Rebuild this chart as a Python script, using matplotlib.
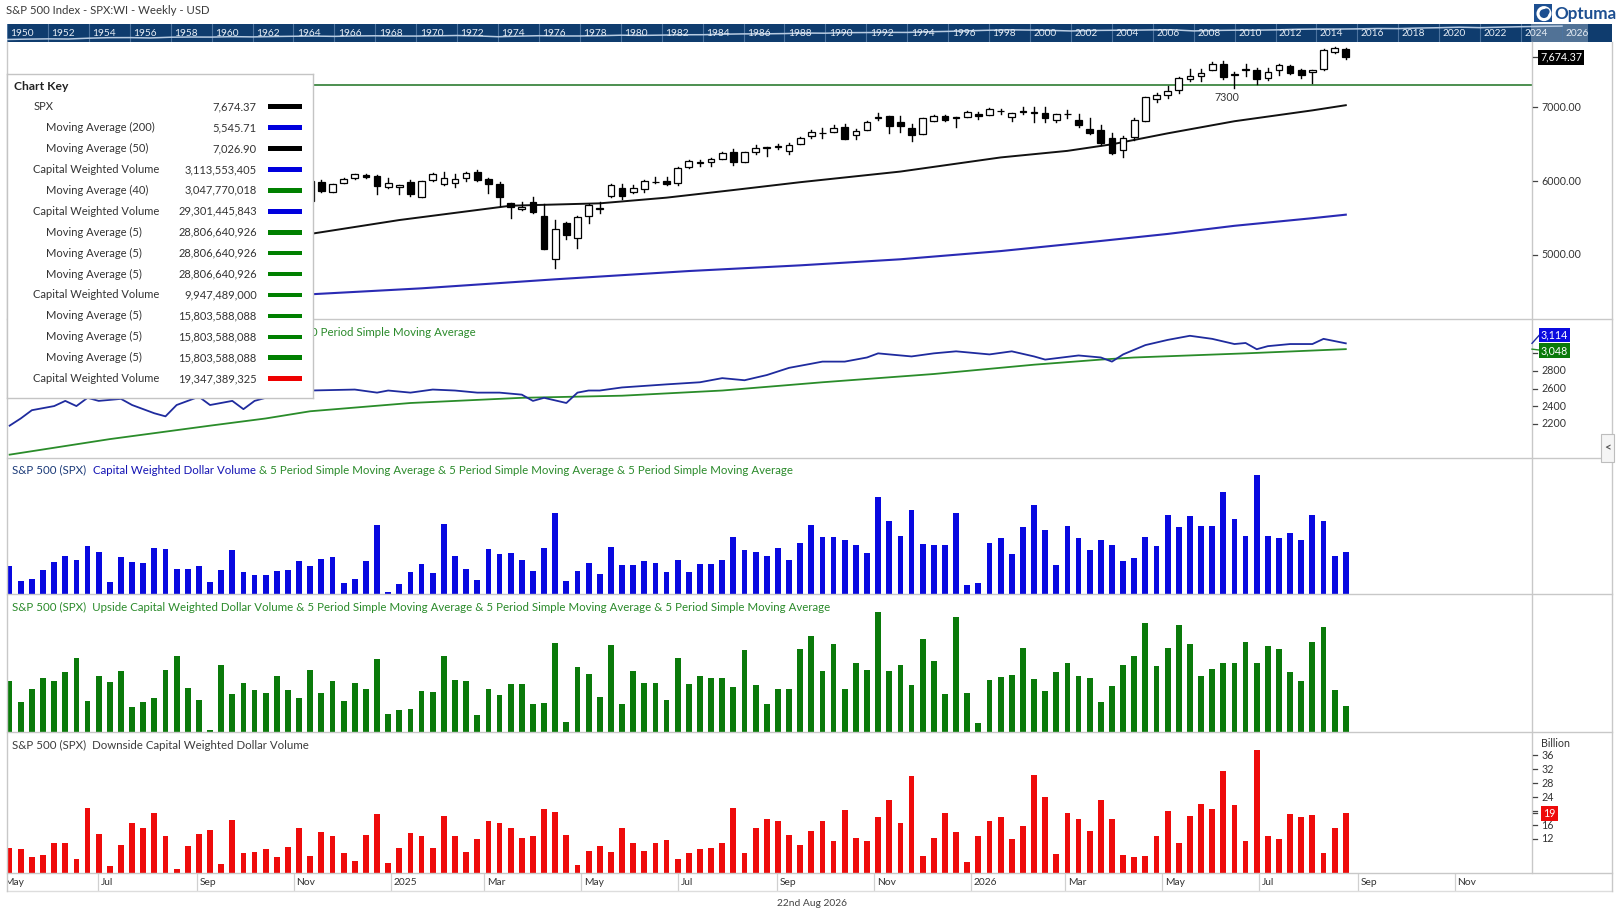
import datetime as dt
import matplotlib
matplotlib.use('Agg')
import matplotlib.pyplot as plt
from matplotlib.patches import Rectangle, Circle
from matplotlib.lines import Line2D
import numpy as np

# ---------------------------------------------------------------- data
first_week = dt.date(2024, 5, 3)          # week ending date of bar 1

opens = [5085, 5142, 5233, 5311, 5316, 5297, 5341, 5440, 5473, 5471,
         5572, 5638, 5545, 5476, 5152, 5353, 5557, 5635, 5624, 5442,
         5615, 5711, 5737, 5737, 5833, 5863, 5809, 5724, 5992, 5857,
         5979, 6037, 6082, 6069, 5924, 5915, 5983, 5780, 6010, 5956,
         5970, 6037, 6118, 6024, 5960, 5699, 5627, 5712, 5528, 4941,
         5428, 5225, 5523, 5628, 5794, 5902, 5848, 5888, 5985, 6001,
         5970, 6186, 6245, 6254, 6299, 6389, 6263, 6389, 6443, 6463,
         6407, 6502, 6610, 6648, 6668, 6735, 6624, 6690, 6855, 6882,
         6793, 6722, 6641, 6815, 6882, 6864, 6868, 6913, 6895, 6946,
         6868, 6953, 6928, 6926, 6824, 6902, 6828, 6708, 6686, 6588,
         6419, 6601, 6811, 7109, 7162, 7229, 7380, 7416, 7509, 7589,
         7440, 7507, 7500, 7389, 7500, 7558, 7509, 7475, 7510, 7748,
         7793]
highs = [5139, 5239, 5325, 5342, 5325, 5375, 5447, 5506, 5524, 5570,
         5655, 5670, 5566, 5566, 5360, 5563, 5643, 5651, 5626, 5636,
         5733, 5767, 5762, 5823, 5878, 5878, 5868, 6012, 6015, 5965,
         6042, 6095, 6096, 6082, 6037, 5945, 6015, 6006, 6114, 6118,
         6091, 6123, 6150, 6042, 5988, 5702, 5712, 5785, 5690, 5473,
         5451, 5528, 5690, 5712, 5955, 5956, 5942, 6015, 6055, 6060,
         6195, 6280, 6285, 6317, 6388, 6439, 6392, 6484, 6468, 6506,
         6520, 6596, 6690, 6717, 6753, 6775, 6699, 6819, 6922, 6884,
         6882, 6771, 6858, 6895, 6895, 6866, 6944, 6931, 6993, 6980,
         6924, 6997, 6997, 7002, 6906, 6957, 6904, 6859, 6762, 6650,
         6615, 6855, 7144, 7189, 7287, 7407, 7522, 7522, 7607, 7620,
         7482, 7580, 7536, 7531, 7578, 7576, 7522, 7503, 7781, 7815,
         7802]
lows = [5011, 5114, 5211, 5257, 5191, 5234, 5330, 5432, 5434, 5448,
        5565, 5497, 5390, 5305, 5120, 5341, 5550, 5560, 5402, 5406,
        5604, 5703, 5675, 5696, 5800, 5782, 5696, 5697, 5857, 5850,
        5970, 6033, 6042, 5825, 5911, 5825, 5803, 5778, 6006, 5953,
        5924, 6006, 6006, 5843, 5667, 5505, 5609, 5573, 5075, 4828,
        5221, 5099, 5437, 5573, 5790, 5758, 5834, 5852, 5970, 5947,
        5951, 6183, 6209, 6209, 6296, 6222, 6260, 6366, 6344, 6430,
        6371, 6500, 6579, 6579, 6665, 6573, 6575, 6688, 6824, 6650,
        6664, 6544, 6638, 6813, 6810, 6730, 6866, 6842, 6893, 6913,
        6810, 6904, 6802, 6806, 6797, 6851, 6735, 6641, 6490, 6365,
        6330, 6552, 6808, 7064, 7122, 7189, 7349, 7349, 7507, 7385,
        7265, 7420, 7309, 7362, 7442, 7454, 7398, 7331, 7508, 7739,
        7649]
closes = [5128, 5223, 5303, 5305, 5278, 5347, 5432, 5465, 5460, 5567,
          5615, 5505, 5459, 5347, 5344, 5554, 5635, 5648, 5408, 5626,
          5703, 5738, 5751, 5815, 5865, 5808, 5729, 5996, 5870, 5960,
          6024, 6091, 6055, 5938, 5970, 5942, 5830, 5997, 6091, 6042,
          6024, 6105, 6019, 5956, 5780, 5645, 5654, 5586, 5077, 5347,
          5275, 5510, 5676, 5634, 5952, 5803, 5902, 5997, 5990, 5965,
          6177, 6276, 6250, 6299, 6385, 6254, 6389, 6443, 6466, 6468,
          6484, 6578, 6668, 6652, 6722, 6575, 6673, 6806, 6860, 6748,
          6744, 6624, 6855, 6882, 6828, 6855, 6935, 6877, 6980, 6950,
          6922, 6931, 6933, 6851, 6904, 6906, 6757, 6650, 6512, 6379,
          6584, 6824, 7135, 7171, 7224, 7398, 7420, 7469, 7580, 7402,
          7445, 7511, 7376, 7478, 7576, 7456, 7433, 7501, 7779, 7802,
          7674.37]

ma200_idx = [28, 38, 50, 62, 72, 81, 90, 99, 105, 111, 118, 121]
ma200_val = [4468, 4549, 4671, 4783, 4860, 4942, 5053, 5190, 5285, 5395, 5498, 5545.71]
ma50_idx = [28, 36, 46, 54, 60, 66, 72, 81, 90, 96, 100, 105, 111, 118, 121]
ma50_val = [5285, 5473, 5667, 5699, 5776, 5879, 5985, 6129, 6320, 6409, 6498, 6646, 6810, 6957, 7026.90]
support_level = 7300

cwv_idx = [1, 2, 3, 5, 6, 7, 8, 9, 11, 12, 14, 15, 16, 18, 19, 21, 22, 23, 24, 25,
           26, 27, 28, 32, 34, 35, 37, 39, 41, 43, 45, 47, 48, 49, 51, 52, 53, 54, 56, 60,
           63, 65, 67, 69, 71, 73, 74, 76, 78, 79, 80, 82, 84, 86, 89, 91, 93, 94, 97, 99,
           100, 101, 103, 105, 107, 109, 111, 112, 113, 114, 116, 118, 119, 121]
cwv_val = [2177, 2259, 2353, 2400, 2459, 2400, 2494, 2459, 2482, 2412, 2318, 2283, 2412, 2506, 2412, 2459, 2365, 2459, 2494, 2540,
           2560, 2570, 2577, 2588, 2553, 2577, 2553, 2588, 2577, 2553, 2553, 2530, 2459, 2494, 2435, 2553, 2577, 2577, 2612, 2647,
           2671, 2718, 2694, 2753, 2835, 2882, 2906, 2906, 2953, 3000, 2988, 2965, 3000, 3023, 2988, 3023, 2965, 2929, 2976, 2953,
           2906, 2988, 3094, 3153, 3200, 3165, 3106, 3118, 3047, 3082, 3106, 3106, 3165, 3114]
ma40_idx = [1, 10, 19, 24, 28, 37, 47, 56, 65, 74, 84, 93, 99, 102, 112, 121]
ma40_val = [1847, 2024, 2177, 2259, 2341, 2435, 2494, 2518, 2577, 2671, 2765, 2871, 2929, 2953, 3000, 3048]

# billions
total_vol = [23.4, 17.3, 18.1, 21.7, 25.0, 27.4, 25.8, 31.5, 29.0, 16.9,
             27.0, 25.0, 24.6, 30.7, 30.3, 22.1, 22.1, 23.4, 16.9, 21.7,
             29.9, 20.9, 19.7, 19.7, 21.3, 21.7, 25.4, 23.4, 26.2, 27.0,
             16.5, 18.1, 25.4, 40.4, 12.8, 16.1, 20.9, 24.2, 20.5, 40.8,
             27.4, 22.1, 17.7, 30.3, 28.2, 28.6, 25.8, 21.3, 30.7, 45.3,
             17.3, 21.3, 24.6, 20.1, 31.1, 23.8, 23.8, 25.4, 24.6, 20.9,
             25.8, 20.9, 24.2, 24.2, 25.8, 35.1, 29.9, 29.0, 27.4, 30.7,
             25.8, 32.7, 40.4, 35.1, 35.1, 33.9, 31.9, 28.6, 51.8, 42.0,
             35.9, 46.5, 32.3, 31.9, 31.9, 45.3, 15.7, 16.5, 32.7, 34.7,
             28.2, 39.2, 48.5, 38.0, 23.8, 39.6, 34.7, 29.9, 33.9, 31.9,
             25.4, 26.6, 35.5, 31.5, 44.5, 39.2, 43.7, 40.0, 39.6, 53.8,
             42.8, 35.9, 60.7, 35.9, 34.7, 36.8, 33.9, 44.5, 42.0, 27.5,
             29.3]
up_vol = [17.7, 11.2, 15.2, 18.6, 17.7, 20.5, 24.8, 11.5, 19.2, 17.4,
          20.8, 9.6, 11.2, 12.4, 21.1, 25.4, 15.5, 11.8, 2.5, 22.6,
          13.7, 17.1, 14.9, 14.0, 19.2, 14.9, 12.4, 21.1, 14.0, 17.7,
          11.5, 17.1, 15.2, 24.5, 7.5, 8.7, 9.0, 14.6, 14.3, 25.4,
          18.0, 17.7, 7.2, 15.2, 13.3, 16.7, 16.7, 10.6, 10.9, 29.4,
          5.0, 22.0, 19.8, 12.7, 28.8, 10.6, 20.8, 17.1, 17.1, 11.8,
          24.8, 16.7, 19.2, 18.6, 18.6, 15.8, 27.3, 16.4, 10.6, 15.2,
          15.2, 27.6, 31.6, 20.8, 29.1, 15.2, 23.5, 21.1, 39.0, 20.8,
          22.6, 16.4, 30.7, 23.9, 13.7, 37.5, 14.0, 4.7, 18.0, 18.9,
          19.5, 27.9, 18.3, 14.6, 20.5, 23.2, 19.2, 18.6, 11.2, 16.1,
          22.6, 25.4, 35.6, 22.3, 27.9, 35.0, 29.1, 19.2, 21.4, 23.2,
          23.5, 29.7, 23.2, 28.5, 27.6, 20.5, 17.7, 29.7, 34.6, 15.1,
          9.95]
down_vol = [9.5, 9.0, 6.9, 7.4, 10.9, 10.9, 6.3, 21.0, 13.5, 4.1,
            10.3, 16.7, 15.2, 19.5, 12.9, 3.3, 10.0, 13.5, 14.7, 4.7,
            17.5, 8.1, 8.3, 9.1, 6.9, 9.7, 15.0, 7.2, 14.1, 12.7,
            8.1, 5.8, 13.2, 19.3, 5.0, 9.4, 13.8, 12.7, 9.5, 18.7,
            12.7, 8.2, 12.1, 17.2, 16.7, 15.0, 12.4, 12.9, 20.7, 19.8,
            13.2, 4.5, 8.4, 10.1, 8.3, 15.0, 10.7, 8.5, 10.7, 11.8,
            6.3, 7.9, 9.2, 9.5, 10.9, 21.0, 8.1, 15.2, 17.8, 17.2,
            13.2, 10.4, 14.4, 17.2, 11.5, 20.4, 12.4, 11.5, 18.4, 23.3,
            16.7, 30.2, 7.0, 12.4, 19.5, 14.1, 5.5, 12.7, 17.2, 18.4,
            12.1, 15.8, 30.4, 24.1, 7.7, 19.5, 17.8, 14.4, 23.3, 17.8,
            7.4, 6.9, 7.2, 12.9, 20.1, 10.7, 18.7, 22.1, 20.7, 31.5,
            21.8, 11.5, 37.5, 12.7, 12.1, 19.2, 18.4, 19.0, 8.0, 15.0,
            19.35]

tl_years = list(range(1950, 2027))
tl_values = [20.4, 23.8, 26.6, 24.8, 36.0, 45.5, 46.7, 40.0, 55.2, 59.9,
             58.1, 71.6, 63.1, 75.0, 84.8, 92.4, 80.3, 96.5, 103.9, 92.1,
             92.2, 102.1, 118.1, 97.6, 68.6, 90.2, 107.5, 95.1, 96.1, 107.9,
             135.8, 122.6, 140.6, 164.9, 167.2, 211.3, 242.2, 247.1, 277.7, 353.4,
             330.2, 417.1, 435.7, 466.5, 459.3, 615.9, 740.7, 970.4, 1229, 1469,
             1320, 1148, 880, 1112, 1212, 1248, 1418, 1468, 903, 1115,
             1258, 1258, 1426, 1848, 2059, 2044, 2239, 2674, 2507, 3231,
             3756, 4766, 3840, 4770, 5882, 6850, 7674]

key_names = ['SPX', 'Moving Average (200)', 'Moving Average (50)', 'Capital Weighted Volume',
             'Moving Average (40)', 'Capital Weighted Volume', 'Moving Average (5)', 'Moving Average (5)',
             'Moving Average (5)', 'Capital Weighted Volume', 'Moving Average (5)', 'Moving Average (5)',
             'Moving Average (5)', 'Capital Weighted Volume']
key_values = ['7,674.37', '5,545.71', '7,026.90', '3,113,553,405', '3,047,770,018', '29,301,445,843',
              '28,806,640,926', '28,806,640,926', '28,806,640,926', '9,947,489,000',
              '15,803,588,088', '15,803,588,088', '15,803,588,088', '19,347,389,325']
key_indent = [0, 1, 1, 0, 1, 0, 1, 1, 1, 0, 1, 1, 1, 0]
key_colors = ['#000000', '#0000dd', '#000000', '#0000dd', '#008000', '#0000dd', '#008000', '#008000',
              '#008000', '#008000', '#008000', '#008000', '#008000', '#ee0000']

month_ticks = [dt.date(2024, 5, 1), dt.date(2024, 7, 1), dt.date(2024, 9, 1), dt.date(2024, 11, 1),
               dt.date(2025, 1, 1), dt.date(2025, 3, 1), dt.date(2025, 5, 1), dt.date(2025, 7, 1),
               dt.date(2025, 9, 1), dt.date(2025, 11, 1), dt.date(2026, 1, 1), dt.date(2026, 3, 1),
               dt.date(2026, 5, 1), dt.date(2026, 7, 1), dt.date(2026, 9, 1), dt.date(2026, 11, 1)]
month_labels = ['May', 'Jul', 'Sep', 'Nov', '2025', 'Mar', 'May', 'Jul', 'Sep', 'Nov',
                '2026', 'Mar', 'May', 'Jul', 'Sep', 'Nov']

# ---------------------------------------------------------------- figure
W, H = 1620, 924
plt.rcParams['font.family'] = ['Lato', 'DejaVu Sans']
fig = plt.figure(figsize=(W / 100, H / 100), dpi=100)
fig.patch.set_facecolor('white')
renderer = fig.canvas.get_renderer()

NAVY = '#1b3a78'
BLUE_T = '#1414b4'
GREEN_T = '#2a8a2a'
GREY_T = '#333333'
BORDER = '#c8c8c8'


def tw(s, fs, weight='normal'):
    t = fig.text(0, 0, s, fontsize=fs, fontweight=weight)
    w = t.get_window_extent(renderer=renderer).width
    t.remove()
    return w


def fit(s, target, weight='normal'):
    return 10.0 * target / tw(s, 10.0, weight)


def ftext(x, y, s, fs, color=GREY_T, ha='left', va='center', weight='normal', z=5, **kw):
    return fig.text(x / W, 1 - y / H, s, fontsize=fs, color=color, ha=ha, va=va,
                    fontweight=weight, zorder=z, **kw)


def mtext(x, y, parts, fs, align='left', z=5):
    full = ''.join(p for p, _ in parts)
    total = tw(full, fs)
    if align == 'right':
        x = x - total
    bar = tw('|', fs)
    pre = ''
    for s, c in parts:
        off = (tw(pre + '|', fs) - bar) if pre else 0.0
        ftext(x + off, y, s, fs, color=c, z=z)
        pre += s


def add_ax(x0, y0, x1, y1, z=1):
    ax = fig.add_axes([x0 / W, 1 - y1 / H, (x1 - x0) / W, (y1 - y0) / H], zorder=z)
    return ax


def clean(ax):
    ax.set_xticks([])
    ax.set_yticks([])
    for s in ax.spines.values():
        s.set_visible(False)


def hline(y, x0, x1, color=BORDER, lw=1.0, z=4):
    fig.add_artist(Line2D([x0 / W, x1 / W], [1 - y / H, 1 - y / H], color=color, lw=lw,
                          transform=fig.transFigure, zorder=z))


def vline(x, y0, y1, color=BORDER, lw=1.0, z=4):
    fig.add_artist(Line2D([x / W, x / W], [1 - y0 / H, 1 - y1 / H], color=color, lw=lw,
                          transform=fig.transFigure, zorder=z))


def ypx(top, bot, lim, v):
    return bot - (v - lim[0]) / (lim[1] - lim[0]) * (bot - top)


FS_TITLE = fit('S&P 500 Index - SPX:WI - Weekly - USD', 203.5)
FS_PANEL = fit('S&P 500 (SPX)  Capital Weighted Dollar Volume & 5 Period Simple Moving Average & '
               '5 Period Simple Moving Average & 5 Period Simple Moving Average', 783)
FS_LEG = fit('Moving Average (200)', 109)
FS_LEGB = fit('Chart Key', 54, 'bold')
FS_AX = fit('7000.00', 39.3)
FS_DATE = fit('2025', 23.8)
FS_TL = fit('1950', 23.5)

n = len(closes)
xs = np.arange(1, n + 1)
X0_PX, DX_PX = 9.6, 11.135
XL = (1 + (7 - X0_PX) / DX_PX, 1 + (1532 - X0_PX) / DX_PX)

# ---------------------------------------------------------------- header
ftext(6, 10, 'S&P 500 Index - SPX:WI - Weekly - USD', FS_TITLE, color='#3a3a3a')

tl = add_ax(7, 24, 1612, 42)
tl.set_facecolor('#0f3c6e')
tl_x1 = 1950 + 1605 / 20.46
tl.set_xlim(1950, tl_x1)
tl.set_ylim(0.82, 4.29)
clean(tl)
for yr in range(1950, 2028, 2):
    tl.axvline(yr, color='#4e74a0', lw=0.8)
    tl.text(yr + 0.17, 0.5, str(yr), transform=tl.get_xaxis_transform(), color='#e6edf5',
            fontsize=FS_TL, va='center', ha='left')
tl.plot(tl_years, np.log10(tl_values), color='#b9cce2', lw=1.1)
tl.add_patch(Rectangle((2024.5, 0.82), 2.75, 3.47, facecolor='white', alpha=0.28, edgecolor='none'))

# logo
lg_ax = add_ax(1534, 4, 1554, 22)
lg_ax.set_xlim(0, 1)
lg_ax.set_ylim(0, 0.9)
lg_ax.set_aspect('equal')
clean(lg_ax)
lg_ax.add_patch(Rectangle((0.02, 0.0), 0.9, 0.9, facecolor='#1d4f91', edgecolor='none'))
lg_ax.add_patch(Circle((0.5, 0.42), 0.3, facecolor='none', edgecolor='white', lw=2.2))
lg_ax.add_patch(Circle((0.62, 0.52), 0.16, facecolor='#1d4f91', edgecolor='none'))
ftext(1554, 13.5, 'Optuma', fit('Optuma', 62, 'bold'), color='#1d4f91', weight='bold')

# ---------------------------------------------------------------- price panel
P1 = (42, 319, (4134, 7882))
ax1 = add_ax(7, P1[0], 1532, P1[1])
ax1.set_xlim(XL)
ax1.set_ylim(P1[2])
clean(ax1)
ax1.axhline(support_level, color='#2e7d32', lw=1.2, zorder=1)
ax1.plot(ma200_idx, ma200_val, color='#2a2ab4', lw=1.5, zorder=2)
ax1.plot(ma50_idx, ma50_val, color='#111111', lw=1.4, zorder=2)
for x, o, h, l, c in zip(xs, opens, highs, lows, closes):
    ax1.plot([x, x], [l, h], color='black', lw=1.0, zorder=3)
    up = c >= o
    lo_b = min(o, c)
    hgt = max(abs(c - o), 7)
    ax1.add_patch(Rectangle((x - 0.3, lo_b), 0.6, hgt, facecolor='white' if up else 'black',
                            edgecolor='black', lw=0.9, zorder=4))
ax1.text(110.3, 7136, '7300', ha='center', va='center', fontsize=FS_AX, color='#333333', zorder=5)

# ---------------------------------------------------------------- panel 2 (lines)
P2 = (319, 458, (1809, 3391))
ax2 = add_ax(7, P2[0], 1532, P2[1])
ax2.set_xlim(XL)
ax2.set_ylim(P2[2])
clean(ax2)
ax2.plot(ma40_idx, ma40_val, color='#2a8c2a', lw=1.3)
ax2.plot(cwv_idx, cwv_val, color='#1f2b9e', lw=1.3)

# ---------------------------------------------------------------- volume panels
P3 = (458, 594, (12, 67.6))
ax3 = add_ax(7, P3[0], 1532, P3[1])
ax3.set_xlim(XL)
ax3.set_ylim(P3[2])
clean(ax3)
ax3.bar(xs, total_vol, width=0.52, color='#0808e0')

P4 = (594, 732, (2, 44.7))
ax4 = add_ax(7, P4[0], 1532, P4[1])
ax4.set_xlim(XL)
ax4.set_ylim(P4[2])
clean(ax4)
ax4.bar(xs, up_vol, width=0.52, color='#0a7a0a')

P5 = (732, 873, (2.22, 42.7))
ax5 = add_ax(7, P5[0], 1532, P5[1])
ax5.set_xlim(XL)
ax5.set_ylim(P5[2])
clean(ax5)
ax5.bar(xs, down_vol, width=0.52, color='#ee0b0b')

# ---------------------------------------------------------------- date strip
axd = add_ax(7, 873, 1532, 891)
axd.set_xlim(XL)
axd.set_ylim(0, 1)
clean(axd)
for d, lab in zip(month_ticks, month_labels):
    pos = 1 + (d - first_week).days / 7.0 - 0.5
    axd.axvline(pos, color='#d0d0d0', lw=0.9)
    axd.text(pos + 0.25, 0.45, lab, fontsize=FS_DATE, color='#333333', ha='left', va='center',
             clip_on=True)
ftext(812, 904, '22nd Aug 2026', FS_DATE, color='#444444', ha='center')

# ---------------------------------------------------------------- borders
for y in [319, 458, 594, 732, 873]:
    hline(y, 7, 1612)
hline(891, 7, 1612, color='#dddddd')
vline(7, 42, 891)
vline(1532, 42, 873)
vline(1612, 42, 891)

# ---------------------------------------------------------------- right axis labels
TX0, TX1, LX = 1533, 1537, 1541.5


def rtick(top, bot, lim, v, label=None, color='#333333'):
    y = ypx(top, bot, lim, v)
    fig.add_artist(Line2D([TX0 / W, TX1 / W], [1 - y / H] * 2, color='#444444', lw=0.9,
                          transform=fig.transFigure, zorder=5))
    if label:
        ftext(LX, y, label, FS_AX, color=color)


for v in [5000, 6000, 7000]:
    rtick(P1[0], P1[1], P1[2], v, '%d.00' % v)
rtick(P1[0], P1[1], P1[2], closes[-1])
ftext(1540, ypx(P1[0], P1[1], P1[2], closes[-1]), '7,674.37', FS_AX, color='white',
      bbox=dict(boxstyle='square,pad=0.22', facecolor='black', edgecolor='none'))

for v in [2200, 2400, 2600, 2800, 3000]:
    rtick(P2[0], P2[1], P2[2], v, None if v == 3000 else str(v))
y_c = ypx(P2[0], P2[1], P2[2], cwv_val[-1])
y_m = ypx(P2[0], P2[1], P2[2], ma40_val[-1])
fig.add_artist(Line2D([1532 / W, 1539 / W], [1 - y_c / H, 1 - 335.5 / H], color='#1f2b9e', lw=1.0,
                      transform=fig.transFigure, zorder=5))
fig.add_artist(Line2D([1532 / W, 1539 / W], [1 - y_m / H, 1 - 350 / H], color='#2a8c2a', lw=1.0,
                      transform=fig.transFigure, zorder=5))
ftext(1541, 335.0, '3,114', FS_AX, color='white',
      bbox=dict(boxstyle='square,pad=0.18', facecolor='#0b0be0', edgecolor='none'), z=6)
ftext(1541, 350.5, '3,048', FS_AX, color='white',
      bbox=dict(boxstyle='square,pad=0.18', facecolor='#0a7a0a', edgecolor='none'), z=6)

for v in [12, 16, 20, 24, 28, 32, 36]:
    rtick(P5[0], P5[1], P5[2], v, None if v == 20 else str(v))
ftext(1541.5, ypx(P5[0], P5[1], P5[2], 39.4), 'Billion', FS_AX, color='#333333')
rtick(P5[0], P5[1], P5[2], down_vol[-1])
ftext(1543, ypx(P5[0], P5[1], P5[2], down_vol[-1]), '19', FS_AX, color='white',
      bbox=dict(boxstyle='square,pad=0.2', facecolor='#ee0b0b', edgecolor='none'), z=6)

# collapse tab
fig.add_artist(Rectangle((1601 / W, 1 - 462 / H), 13 / W, 28 / H, facecolor='#f5f5f5',
                         edgecolor='#bdbdbd', lw=0.8, transform=fig.transFigure, zorder=5))
ftext(1607.5, 448, '<', FS_AX * 1.1, color='#555555', ha='center', weight='bold', z=6)

# ---------------------------------------------------------------- panel titles
# panel 2 title: only its tail is visible to the right of the chart key
mtext(476, 332.5, [(' & 40 Period Simple Moving Average', GREEN_T)], FS_PANEL, align='right')
mtext(12.4, 470, [('S&P 500 (SPX)  ', NAVY), ('Capital Weighted Dollar Volume', BLUE_T),
                  (' & 5 Period Simple Moving Average & 5 Period Simple Moving Average & '
                   '5 Period Simple Moving Average', GREEN_T)], FS_PANEL)
mtext(12.4, 607.5, [('S&P 500 (SPX)  Upside Capital Weighted Dollar Volume & 5 Period Simple Moving '
                     'Average & 5 Period Simple Moving Average & 5 Period Simple Moving Average',
                     GREEN_T)], FS_PANEL)
mtext(12.4, 745, [('S&P 500 (SPX)  Downside Capital Weighted Dollar Volume', '#3c3c3c')], FS_PANEL)

# ---------------------------------------------------------------- chart key
lg = add_ax(7, 74, 313, 398, z=10)
lg.set_xlim(7, 313)
lg.set_ylim(398, 74)
lg.set_facecolor('white')
lg.set_xticks([])
lg.set_yticks([])
for s in lg.spines.values():
    s.set_color('#c4c4c4')
    s.set_linewidth(1.0)
lg.text(14, 86.5, 'Chart Key', fontsize=FS_LEGB, fontweight='bold', color='#222222', va='center')
for i, (nm, val, ind, col) in enumerate(zip(key_names, key_values, key_indent, key_colors)):
    y = 106.7 + i * 20.92
    lg.text(45.7 if ind else 33.3, y, nm, fontsize=FS_LEG, color='#333333', va='center')
    lg.text(256.7, y, val, fontsize=FS_LEG, color='#333333', va='center', ha='right')
    lg.add_patch(Rectangle((268, y - 2.3), 34, 4.6, facecolor=col, edgecolor='none'))

fig.savefig('out.png', dpi=100, facecolor='white')
